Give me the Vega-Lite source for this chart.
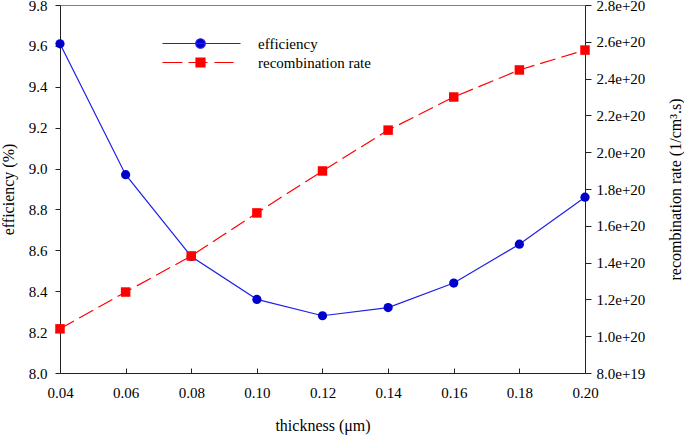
{
  "$schema": "https://vega.github.io/schema/vega-lite/v6.json",
  "autosize": {"type": "none"},
  "width": 525,
  "height": 368,
  "padding": {"left": 60, "top": 5, "right": 99, "bottom": 62},
  "background": "white",
  "config": {
    "view": {"stroke": "#808080", "strokeWidth": 1},
    "font": "Times New Roman, Liberation Serif, Times, serif",
    "axis": {
      "labelFont": "Times New Roman, Liberation Serif, Times, serif",
      "titleFont": "Times New Roman, Liberation Serif, Times, serif",
      "labelFontSize": 15,
      "titleFontSize": 16,
      "titleFontWeight": "normal",
      "labelColor": "black",
      "titleColor": "black",
      "domainColor": "#222222",
      "tickColor": "#222222",
      "labelFlush": false,
      "labelOverlap": false,
      "grid": false
    }
  },
  "data": {
    "values": [
      {"thickness": 0.04, "efficiency": 9.61, "recombination": 1.04e20},
      {"thickness": 0.06, "efficiency": 8.97, "recombination": 1.24e20},
      {"thickness": 0.08, "efficiency": 8.57, "recombination": 1.436e20},
      {"thickness": 0.10, "efficiency": 8.36, "recombination": 1.67e20},
      {"thickness": 0.12, "efficiency": 8.28, "recombination": 1.898e20},
      {"thickness": 0.14, "efficiency": 8.32, "recombination": 2.12e20},
      {"thickness": 0.16, "efficiency": 8.44, "recombination": 2.30e20},
      {"thickness": 0.18, "efficiency": 8.63, "recombination": 2.447e20},
      {"thickness": 0.20, "efficiency": 8.86, "recombination": 2.555e20}
    ]
  },
  "layer": [
    {
      "encoding": {
        "x": {
          "field": "thickness", "type": "quantitative",
          "scale": {"domain": [0.04, 0.2], "nice": false, "zero": false},
          "axis": {
            "title": "thickness (μm)",
            "values": [0.04, 0.06, 0.08, 0.1, 0.12, 0.14, 0.16, 0.18, 0.2],
            "format": ".2f", "tickSize": -5, "labelPadding": 17, "titlePadding": 17
          }
        },
        "y": {
          "field": "efficiency", "type": "quantitative",
          "scale": {"domain": [8, 9.8], "nice": false, "zero": false},
          "axis": {
            "title": "efficiency (%)",
            "values": [8, 8.2, 8.4, 8.6, 8.8, 9, 9.2, 9.4, 9.6, 9.8],
            "format": ".1f", "tickSize": 5, "labelPadding": 8, "titlePadding": 12
          }
        }
      },
      "layer": [
        {
          "mark": {"type": "line", "strokeWidth": 1.2},
          "encoding": {
            "color": {
              "datum": "efficiency",
              "scale": {"domain": ["efficiency", "recombination rate"], "range": ["#1f1fe8", "#ff0000"]},
              "legend": {
                "title": null,
                "orient": "none",
                "legendX": 133,
                "legendY": 31,
                "padding": 0,
                "symbolSize": 100,
                "labelOffset": 50,
                "labelFont": "Times New Roman, Liberation Serif, Times, serif",
                "labelFontSize": 15,
                "labelColor": "black",
                "rowPadding": 3,
                "encode": {
                  "symbols": {
                    "update": {
                      "shape": {"signal": "datum.value === 'efficiency' ? 'M-7.6,0H8M-0.95,0A0.95,0.95,0,1,1,0.95,0A0.95,0.95,0,1,1,-0.95,0Z' : 'M-7.6,0H-3.6M-2.4,0H1.4M2.8,0H6.6M-0.9,-0.9H0.9V0.9H-0.9Z'"},
                      "fill": {"signal": "datum.value === 'efficiency' ? '#0000cc' : '#ff0000'"},
                      "stroke": {"signal": "datum.value === 'efficiency' ? '#1f1fe8' : '#ff0000'"},
                      "strokeWidth": {"value": 1.2},
                      "strokeDash": {"value": []},
                      "opacity": {"value": 1},
                      "fillOpacity": {"value": 1},
                      "strokeOpacity": {"value": 1}
                    }
                  }
                }
              }
            }
          }
        },
        {
          "mark": {"type": "point", "filled": true, "shape": "circle", "size": 85, "color": "#0000cc", "opacity": 1}
        }
      ]
    },
    {
      "encoding": {
        "x": {"field": "thickness", "type": "quantitative"},
        "y": {
          "field": "recombination", "type": "quantitative",
          "scale": {"domain": [8e19, 2.8e20], "nice": false, "zero": false},
          "axis": {
            "orient": "right",
            "title": "recombination rate (1/cm³.s)",
            "titleAngle": 270,
            "values": [8e19, 1e20, 1.2e20, 1.4e20, 1.6e20, 1.8e20, 2e20, 2.2e20, 2.4e20, 2.6e20, 2.8e20],
            "format": ".1e", "tickSize": 6, "labelPadding": 5, "titlePadding": 39
          }
        }
      },
      "layer": [
        {
          "mark": {"type": "line", "strokeWidth": 1.2, "strokeDash": [16, 6]},
          "encoding": {"color": {"datum": "recombination rate"}}
        },
        {
          "mark": {"type": "point", "filled": true, "shape": "square", "size": 90, "color": "#ff0000", "opacity": 1}
        }
      ]
    }
  ],
  "resolve": {"scale": {"y": "independent"}}
}
